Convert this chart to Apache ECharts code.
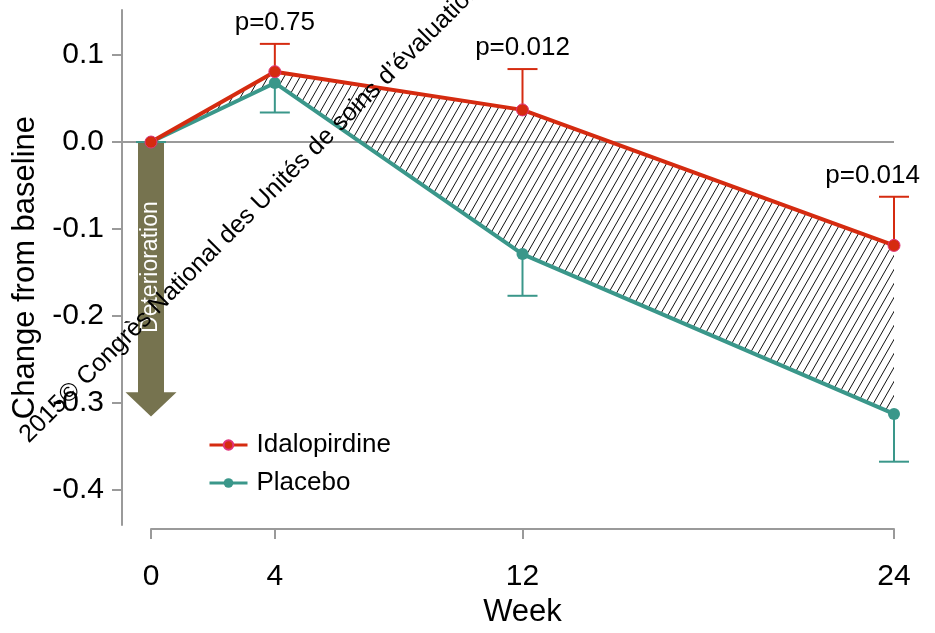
<!DOCTYPE html>
<html><head><meta charset="utf-8">
<script src="https://cdn.jsdelivr.net/npm/echarts@6/dist/echarts.min.js"></script>
<style>html,body{margin:0;padding:0;background:#fff}#c{width:935px;height:633px}</style>
</head><body><div id="c"></div>
<script>
// ---- data ----
const weeks = [0, 4, 12, 24];
const idalopirdine = [0, 0.081, 0.037, -0.119];
const idalopirdineUpper = [0, 0.113, 0.084, -0.063];
const placebo = [0, 0.068, -0.129, -0.313];
const placeboLower = [0, 0.034, -0.177, -0.368];
const pLabels = ['', 'p=0.75', 'p=0.012', 'p=0.014'];
const xTicks = [0, 4, 12, 24];
const yTicks = [-0.4, -0.3, -0.2, -0.1, 0, 0.1];
const arrowValues = [0, -0.288, -0.316]; // shaft start, head start, tip
const watermark = "2015\u00a9 Congr\u00e8s National des Unit\u00e9s de soins d\u2019\u00e9valuation et de prise en charge";

const FONT = "'Liberation Sans', Arial, Helvetica, sans-serif";
const RED = '#d52b10';
const TEAL = '#3a978a';
const AXIS = '#9a9a9a';
const OLIVE = '#76734f';
const Y_OFFSET = 29;

// hatch pattern
const pat = document.createElement('canvas');
pat.width = 8; pat.height = 14;
const g = pat.getContext('2d');
g.strokeStyle = '#111'; g.lineWidth = 1;
for (const o of [-8, 0, 8]) { g.beginPath(); g.moveTo(o - 4, 21); g.lineTo(o + 12, -7); g.stroke(); }

const measure = document.createElement('canvas').getContext('2d');

const chart = echarts.init(document.getElementById('c'));
const W = 935;

function errRender(color, withLabels) {
  return function (params, api) {
    const x = api.value(0), y = api.value(1), e = api.value(2);
    const p0 = api.coord([x, y]), p1 = api.coord([x, e]);
    const cap = 15;
    const children = [
      { type: 'line', shape: { x1: p0[0], y1: p0[1], x2: p1[0], y2: p1[1] }, style: { stroke: color, lineWidth: 2 } },
      { type: 'line', shape: { x1: p1[0] - cap, y1: p1[1], x2: p1[0] + cap, y2: p1[1] }, style: { stroke: color, lineWidth: 2 } }
    ];
    if (withLabels) {
      const t = pLabels[params.dataIndex];
      if (t) {
        measure.font = '26px ' + FONT;
        const tw = measure.measureText(t).width;
        const cx = Math.min(p1[0], W - 15 - tw / 2);
        children.push({ type: 'text', x: cx, y: p1[1] - 21,
          style: { text: t, fill: '#000', font: '26px ' + FONT, textAlign: 'center', textVerticalAlign: 'middle' } });
      }
    }
    return { type: 'group', children };
  };
}

const option = {
  animation: false,
  backgroundColor: '#fff',
  textStyle: { fontFamily: FONT },
  grid: { left: 151, right: 41, top: 10, bottom: 99 },
  xAxis: {
    type: 'value', min: 0, max: 24, offset: 4,
    axisLine: { show: true, onZero: false, lineStyle: { color: AXIS, width: 2 } },
    axisTick: { show: true, length: 10, customValues: xTicks, lineStyle: { color: AXIS, width: 2 } },
    axisLabel: { customValues: xTicks, fontSize: 30, color: '#000', margin: 33, fontFamily: FONT },
    splitLine: { show: false },
    name: 'Week', nameLocation: 'middle', nameGap: 65,
    nameTextStyle: { fontSize: 31, color: '#000', fontFamily: FONT }
  },
  yAxis: {
    type: 'value', min: -0.441, max: 0.152, offset: Y_OFFSET,
    axisLine: { show: true, onZero: false, lineStyle: { color: AXIS, width: 2 } },
    axisTick: { show: true, length: 10, customValues: yTicks, lineStyle: { color: AXIS, width: 2 } },
    axisLabel: { customValues: yTicks, fontSize: 30, color: '#000', margin: 18, fontFamily: FONT,
      formatter: v => (Math.abs(v) < 1e-9 ? 0 : v).toFixed(1) },
    splitLine: { show: false },
    name: 'Change from baseline', nameLocation: 'middle', nameGap: 76,
    nameTextStyle: { fontSize: 31, color: '#000', fontFamily: FONT }
  },
  legend: {
    data: ['Idalopirdine', 'Placebo'], orient: 'vertical', left: 208, top: 432,
    itemWidth: 38, itemHeight: 12, itemGap: 12, padding: 0,
    textStyle: { fontSize: 26, color: '#000', fontFamily: FONT, padding: [0, 0, 0, 4] },
    lineStyle: { width: 3 }
  },
  graphic: [{
    type: 'text', x: 24, y: 439, rotation: 45 * Math.PI / 180, z: 100,
    style: { text: watermark, fill: '#000', font: '25px ' + FONT, textAlign: 'left', textVerticalAlign: 'middle' }
  }],
  series: [
    { name: 'zero', type: 'custom', silent: true, z: 1, clip: false,
      data: [[xTicks[xTicks.length - 1], 0]],
      renderItem: function (params, api) {
        const p = api.coord([api.value(0), api.value(1)]);
        return { type: 'line', shape: { x1: params.coordSys.x - Y_OFFSET, y1: p[1], x2: p[0], y2: p[1] },
          style: { stroke: AXIS, lineWidth: 2 } };
      } },
    { name: 'band', type: 'custom', silent: true, z: 2, clip: false,
      data: [[weeks[0], idalopirdine[0]]],
      renderItem: function (params, api) {
        const top = weeks.map((w, i) => api.coord([w, idalopirdine[i]]));
        const bot = weeks.map((w, i) => api.coord([w, placebo[i]])).reverse();
        return { type: 'polygon', shape: { points: top.concat(bot) },
          style: { fill: { image: pat, repeat: 'repeat' }, stroke: null } };
      } },
    { name: 'arrow', type: 'custom', silent: true, z: 3, clip: false,
      data: [[weeks[0], arrowValues[0], arrowValues[1], arrowValues[2]]],
      renderItem: function (params, api) {
        const x = api.value(0);
        const a = api.coord([x, api.value(1)]), h = api.coord([x, api.value(2)]), t = api.coord([x, api.value(3)]);
        const cx = a[0], sw = 13, hw = 25.5;
        return { type: 'group', children: [
          { type: 'polygon', shape: { points: [[cx - sw, a[1]], [cx + sw, a[1]], [cx + sw, h[1]], [cx + hw, h[1]], [cx, t[1]], [cx - hw, h[1]], [cx - sw, h[1]]] },
            style: { fill: OLIVE } },
          { type: 'text', x: cx, y: (a[1] + h[1]) / 2, rotation: Math.PI / 2,
            style: { text: 'Deterioration', fill: '#fff', font: '23px ' + FONT, textAlign: 'center', textVerticalAlign: 'middle' } }
        ] };
      } },
    { name: 'Idalopirdine', type: 'line', z: 6, symbol: 'circle', symbolSize: 12,
      data: weeks.map((w, i) => [w, idalopirdine[i]]),
      lineStyle: { color: RED, width: 4 },
      itemStyle: { color: RED, borderColor: '#e0337a', borderWidth: 1 } },
    { name: 'Placebo', type: 'line', z: 5, symbol: 'circle', symbolSize: 12,
      data: weeks.map((w, i) => [w, placebo[i]]),
      lineStyle: { color: TEAL, width: 4 },
      itemStyle: { color: TEAL } },
    { name: 'idalErr', type: 'custom', z: 4, silent: true, clip: false,
      data: weeks.map((w, i) => [w, idalopirdine[i], idalopirdineUpper[i]]),
      renderItem: errRender(RED, true) },
    { name: 'placeboErr', type: 'custom', z: 4, silent: true, clip: false,
      data: weeks.map((w, i) => [w, placebo[i], placeboLower[i]]),
      renderItem: errRender(TEAL, false) }
  ]
};
chart.setOption(option);
</script></body></html>
